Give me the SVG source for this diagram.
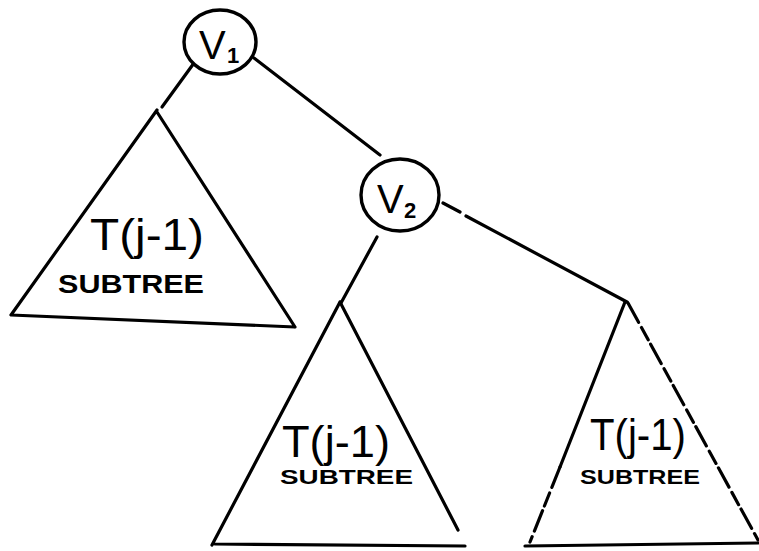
<svg xmlns="http://www.w3.org/2000/svg" width="759" height="551" viewBox="0 0 759 551">
<style>
.ln{stroke:#000;stroke-width:3.2;fill:none;stroke-linecap:round;stroke-linejoin:round}
.dash{stroke-dasharray:22 6 14 5}
.node{fill:#fff;stroke:#000;stroke-width:3.4}
.lbl{font-family:"Liberation Sans",Arial,sans-serif;fill:#000}
.big{font-size:44px}
.sm{font-size:26px;font-weight:bold}
</style>
<rect width="759" height="551" fill="#fff"/>
<g id="connectors">
<path class="ln" d="M194,63 L162,107"/>
<path class="ln" d="M254,58 L380,155"/>
<path class="ln" d="M377,237 L341,303"/>
<path class="ln" d="M443,203 L460,212 M466,216 L627,302"/>
</g>
<g id="subtree1">
<path class="ln" d="M157,110 L11,315 L295,327 M157,112 L295,327"/>
<text class="lbl big" x="90" y="250" textLength="114" lengthAdjust="spacingAndGlyphs">T(j-1)</text>
<text class="lbl sm" x="58" y="293" textLength="146" lengthAdjust="spacingAndGlyphs">SUBTREE</text>
</g>
<g id="subtree2">
<path class="ln" d="M340,302 L212,545 M340,302 L458,530 M215,544 L465,546"/>
<text class="lbl big" x="282" y="457" textLength="108" lengthAdjust="spacingAndGlyphs">T(j-1)</text>
<text class="lbl sm" x="280" y="484" textLength="133" font-size="22" lengthAdjust="spacingAndGlyphs" style="font-size:21px">SUBTREE</text>
</g>
<g id="subtree3">
<path class="ln" d="M625,302 L560,467"/>
<path class="ln dash" d="M560,467 L530,542"/>
<path class="ln dash" d="M628,303 L758,540"/>
<path class="ln" d="M525,546 L758,543"/>
<text class="lbl big" x="590" y="450" textLength="96" lengthAdjust="spacingAndGlyphs">T(j-1)</text>
<text class="lbl sm" x="580" y="484" textLength="120" lengthAdjust="spacingAndGlyphs" style="font-size:21px">SUBTREE</text>
</g>
<g id="v1">
<ellipse class="node" cx="220" cy="42" rx="36" ry="32"/>
<text class="lbl" x="199" y="59" font-size="40">V</text>
<text class="lbl" x="227" y="63" font-size="22" font-weight="bold">1</text>
</g>
<g id="v2">
<ellipse class="node" cx="400" cy="195" rx="39" ry="36"/>
<text class="lbl" x="377" y="213" font-size="40">V</text>
<text class="lbl" x="404" y="218" font-size="22" font-weight="bold">2</text>
</g>
</svg>
